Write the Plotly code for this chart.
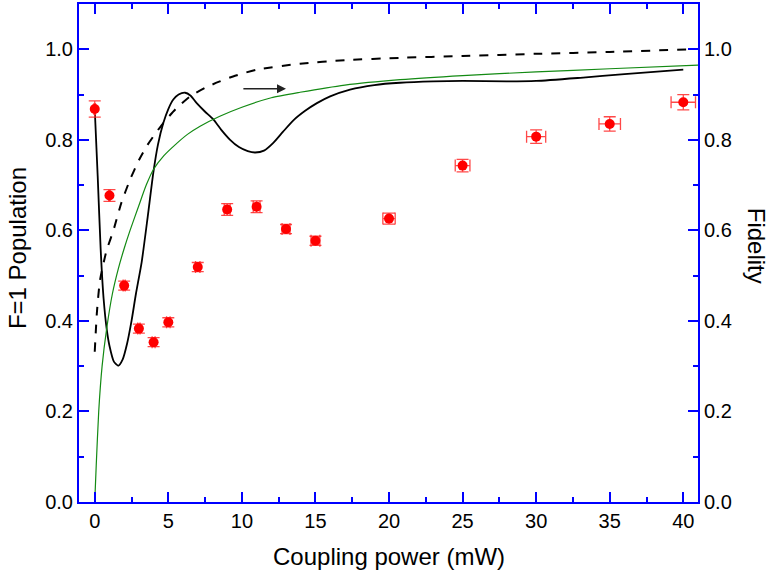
import plotly.graph_objects as go

# Measured data
power = [0, 1, 2, 3, 4, 5, 7, 9, 11, 13, 15, 20, 25, 30, 35, 40]
population = [0.868, 0.677, 0.478, 0.383, 0.353, 0.397, 0.519, 0.646, 0.652, 0.603, 0.577, 0.626, 0.743, 0.807, 0.835, 0.883]
pop_err = [0.018, 0.013, 0.010, 0.010, 0.010, 0.010, 0.010, 0.013, 0.013, 0.010, 0.010, 0.012, 0.014, 0.015, 0.016, 0.017]
power_err = [0.05, 0.05, 0.07, 0.08, 0.1, 0.12, 0.15, 0.2, 0.23, 0.27, 0.3, 0.42, 0.5, 0.65, 0.73, 0.83]

# Theory population (solid black)
th_x = [0, 0.2, 0.4, 0.6, 0.82, 1.0, 1.3, 1.6, 1.9, 2.2, 2.5, 2.8, 3.19, 3.6, 3.98, 4.3, 4.66, 5.0, 5.34, 5.7,
        6.14, 6.5, 6.93, 7.5, 8.06, 8.6, 9.2, 9.8, 10.4, 10.9, 11.5, 12.1, 12.8, 13.5, 14.3, 15.1, 16.0, 17.35,
        19.0, 20.75, 23.0, 25.0, 28.0, 30.0, 33.0, 36.0, 40.0]
th_y = [0.868, 0.720, 0.560, 0.450, 0.380, 0.345, 0.310, 0.301, 0.315, 0.350, 0.400, 0.460, 0.530, 0.630, 0.727,
        0.790, 0.837, 0.868, 0.889, 0.900, 0.904, 0.898, 0.881, 0.862, 0.845, 0.822, 0.800, 0.784, 0.775, 0.772,
        0.776, 0.792, 0.818, 0.843, 0.864, 0.881, 0.896, 0.911, 0.921, 0.926, 0.929, 0.930, 0.929, 0.930, 0.937,
        0.945, 0.955]

# Fidelity (dashed black)
fid_x = [0, 0.15, 0.36, 0.8, 1.27, 1.8, 2.4, 3.0, 3.53, 4.1, 4.66, 5.5, 6.48, 7.5, 8.5, 9.4, 11.0, 13.95, 17.0,
         20.7, 25.0, 30.0, 35.0, 40.5]
fid_y = [0.332, 0.420, 0.490, 0.555, 0.600, 0.660, 0.712, 0.755, 0.786, 0.813, 0.837, 0.868, 0.896, 0.915, 0.929,
         0.940, 0.955, 0.968, 0.976, 0.981, 0.985, 0.990, 0.994, 1.000]

# Green curve
gr_x = [0, 0.1, 0.27, 0.5, 0.82, 1.2, 1.6, 2.0, 2.4, 3.0, 3.5, 3.98, 4.7, 5.5, 6.3, 7.16, 8.5, 10.0, 12.0, 13.95,
        17.0, 20.75, 25.0, 30.0, 35.0, 41.0]
gr_y = [0.0, 0.080, 0.200, 0.300, 0.385, 0.460, 0.515, 0.560, 0.600, 0.655, 0.700, 0.734, 0.765, 0.790, 0.812,
        0.830, 0.852, 0.872, 0.893, 0.905, 0.921, 0.933, 0.942, 0.950, 0.957, 0.965]

blue = "#0000ff"
font = "Liberation Sans, Arial, sans-serif"

fig = go.Figure()
fig.add_trace(go.Scatter(x=gr_x, y=gr_y, mode="lines", line=dict(color="#138a13", width=1.2, shape="spline", smoothing=0.6),
                         yaxis="y2", showlegend=False))
fig.add_trace(go.Scatter(x=fid_x, y=fid_y, mode="lines",
                         line=dict(color="black", width=2, dash="dash", shape="spline", smoothing=0.6),
                         yaxis="y2", showlegend=False))
fig.add_trace(go.Scatter(x=th_x, y=th_y, mode="lines", line=dict(color="black", width=1.8, shape="spline", smoothing=0.6),
                         showlegend=False))
fig.add_trace(go.Scatter(x=power, y=population, mode="markers",
                         marker=dict(color="red", size=10),
                         error_y=dict(type="data", array=pop_err, color="rgba(255,40,40,0.85)", thickness=1.3, width=6),
                         error_x=dict(type="data", array=power_err, color="rgba(255,40,40,0.85)", thickness=1.3, width=6),
                         showlegend=False))

fig.add_annotation(x=13.0, y=0.913, ax=10.0, ay=0.913, xref="x", yref="y", axref="x", ayref="y",
                   showarrow=True, arrowhead=2, arrowsize=1.2, arrowwidth=1.5, arrowcolor="#222", text="")

# Axis titles as annotations for exact placement
fig.add_annotation(text="Coupling power (mW)", xref="paper", yref="paper", x=0.5, y=-0.11,
                   xanchor="center", yanchor="middle", showarrow=False, font=dict(size=24))
fig.add_annotation(text="F=1 Population", xref="paper", yref="paper", x=-0.100, y=0.51,
                   xanchor="center", yanchor="middle", textangle=-90, showarrow=False, font=dict(size=24))
fig.add_annotation(text="Fidelity", xref="paper", yref="paper", x=1.095, y=0.515,
                   xanchor="center", yanchor="middle", textangle=90, showarrow=False, font=dict(size=24))

common_minor = dict(ticks="inside", ticklen=5, tickwidth=2, tickcolor=blue, showgrid=False)

fig.update_layout(
    width=769, height=575,
    margin=dict(l=79, r=71, t=4, b=73),
    paper_bgcolor="white", plot_bgcolor="white",
    font=dict(family=font, size=20, color="black"),
    xaxis=dict(range=[-1.07, 41], tickvals=[0, 5, 10, 15, 20, 25, 30, 35, 40], automargin=False,
               ticks="inside", ticklen=10, tickwidth=2, tickcolor=blue,
               showline=True, linecolor=blue, linewidth=2, mirror="ticks",
               showgrid=False, zeroline=False,
               minor=dict(dtick=2.5, tick0=0, **common_minor)),
    yaxis=dict(range=[0, 1.1], tickvals=[0, 0.2, 0.4, 0.6, 0.8, 1.0], tickformat=".1f", automargin=False,
               ticks="inside", ticklen=10, tickwidth=2, tickcolor=blue,
               showline=True, linecolor=blue, linewidth=2, mirror=False,
               showgrid=False, zeroline=False,
               minor=dict(dtick=0.1, tick0=0, **common_minor)),
    yaxis2=dict(range=[0, 1.1], tickvals=[0, 0.2, 0.4, 0.6, 0.8, 1.0], tickformat=".1f", automargin=False,
                overlaying="y", side="right",
                ticks="inside", ticklen=10, tickwidth=2, tickcolor=blue,
                showline=True, linecolor=blue, linewidth=2,
                showgrid=False, zeroline=False,
                minor=dict(dtick=0.1, tick0=0, **common_minor)),
)

fig.write_html("out.html", config={"displayModeBar": False},
               post_script="document.body.style.margin='0px';")
